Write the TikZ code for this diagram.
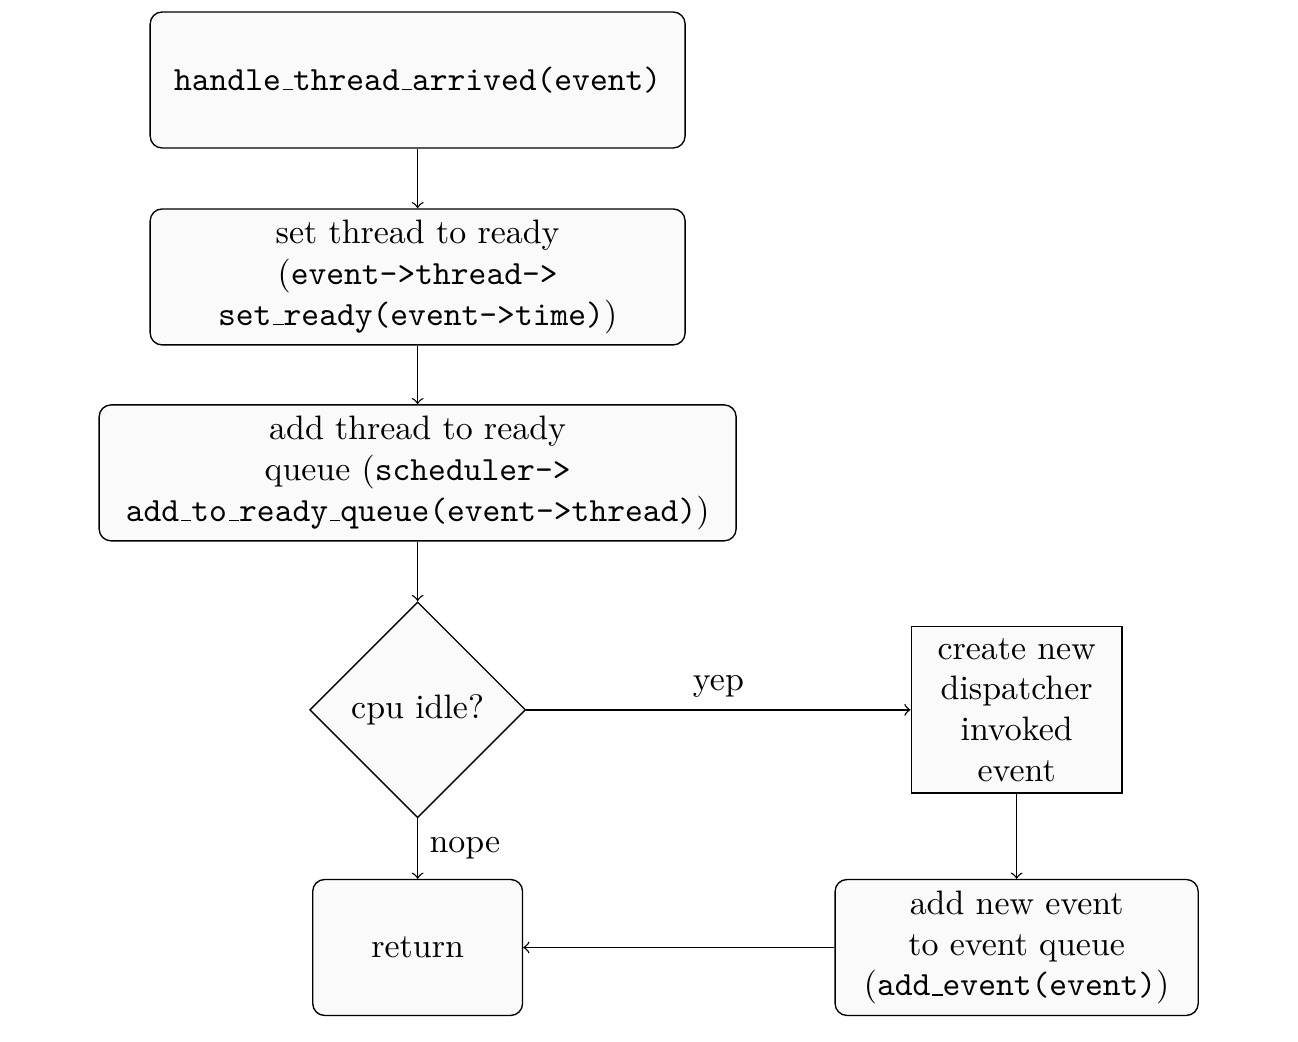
\documentclass[tikz,border=0pt]{standalone}
\usetikzlibrary{shapes.geometric}

% underscore drawn as a low rule
\newcommand\usc{\kern.06em\vbox{\hrule width.3em}}

\begin{document}
\begin{tikzpicture}[
  >=to,
  stepbox/.style={draw, rounded corners=3.5pt, fill=black!2, align=center,
    minimum width=157.8pt, minimum height=40.1pt, inner sep=2pt},
  plainbox/.style={draw, fill=black!2, align=center, inner sep=1pt,
    minimum width=62.2pt, minimum height=49pt},
  choice/.style={draw, diamond, fill=black!2, align=center, inner sep=0pt,
    minimum width=63.7pt, minimum height=63.7pt}
]

\newcommand\LX{123.2pt}
\newcommand\RX{299.9pt}

\useasboundingbox (0,0) rectangle (382.9pt,-307.1pt);

\node[stepbox] (arrived) at (\LX,-23.6pt) {\texttt{handle\usc thread\usc arrived(event)}};
\node[stepbox] (ready) at (\LX,-81.7pt) {set thread to ready\\
  (\texttt{event->thread->}\\ \texttt{set\usc ready(event->time)})};
\node[stepbox, minimum width=187.9pt] (queue) at (\LX,-139.5pt) {add thread to ready\\
  queue (\texttt{scheduler->}\\ \texttt{add\usc to\usc ready\usc queue(event->thread)})};
\node[choice] (idle) at (\LX,-209.4pt) {cpu idle?};
\node[plainbox] (dispatch) at (\RX,-209.4pt) {create new\\ dispatcher\\ invoked\\ event};
\node[stepbox, minimum width=107.1pt] (addevent) at (\RX,-279.5pt) {add new event\\
  to event queue\\ (\texttt{add\usc event(event)})};
\node[stepbox, minimum width=61.9pt] (return) at (\LX,-279.5pt) {return};

\draw[->] (arrived) -- (ready);
\draw[->] (ready) -- (queue);
\draw[->] (queue) -- (idle);
\draw[->] (idle.east) -- node[above]{yep} (dispatch.west);
\draw[->] (idle.south) -- node[right]{nope} (return.north);
\draw[->] (dispatch) -- (addevent);
\draw[->] (addevent.west) -- (return.east);

\end{tikzpicture}
\end{document}
